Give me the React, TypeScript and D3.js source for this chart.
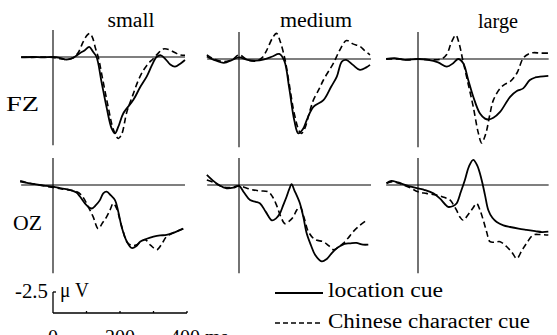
import React from 'react';
import * as d3 from 'd3';

type Pt = [number, number]; // [ms, microvolts], negative plotted up

const conditions = ['small', 'medium', 'large'];
const electrodes = ['FZ', 'OZ'];
const legendLabels = ['location cue', 'Chinese character cue'];
const scaleTicks = [0, 100, 200, 300, 400];
const scaleTickLabels = [
  { t: 0, text: '0', anchor: 'middle' },
  { t: 200, text: '200', anchor: 'middle' },
  { t: 350, text: '400 ms', anchor: 'start' },
];

// FZ
const fzSmallLoc: Pt[] = [[-95, 0.05], [-60, 0], [-30, 0.05], [0, 0], [20, 0.1], [40, 0.3], [60, 0.1], [80, -0.45], [95, -0.8], [108, -1.2], [120, -0.6], [130, 0], [145, 3], [160, 6], [175, 8.5], [185, 9.1], [195, 8.3], [210, 6.7], [240, 5.1], [260, 3.6], [280, 2.3], [295, 1.0], [309, 0], [322, -0.2], [337, 0.3], [350, 0.9], [364, 1.15], [380, 0.8], [394, 0.36]];
const fzSmallChi: Pt[] = [[-95, 0], [-60, 0.05], [-30, 0], [0, 0.05], [20, 0.2], [40, 0.3], [60, 0.1], [75, -0.5], [90, -1.8], [102, -2.6], [110, -2.8], [118, -2.3], [127, -1.0], [135, 0], [150, 3], [165, 6], [180, 8.6], [195, 9.7], [205, 9.2], [220, 6.6], [235, 4.9], [260, 2.3], [280, 1.0], [299, 0.2], [315, -0.5], [329, -0.95], [345, -0.9], [365, -0.5], [380, -0.25], [394, -0.2]];
const fzMediumLoc: Pt[] = [[-96, -0.3], [-75, 0.1], [-45, 0.45], [-20, 0.1], [0, -0.2], [25, 0.1], [50, 0.2], [75, 0.05], [100, -0.3], [120, -0.6], [135, 0.2], [150, 3.5], [165, 7.3], [177, 8.85], [190, 8.4], [205, 7.0], [222, 5.7], [252, 4.9], [275, 3.3], [292, 2.1], [307, 0.3], [320, 0.1], [340, 0.7], [361, 1.3], [380, 1.0], [391, 0.7]];
const fzMediumChi: Pt[] = [[-96, -0.5], [-75, 0], [-45, 0.3], [-20, 0.1], [0, -0.5], [25, 0.1], [50, 0.25], [70, -0.2], [83, -1.07], [100, -2.5], [112, -3.05], [122, -2.2], [137, 0], [150, 3], [165, 6.5], [180, 8.6], [187, 8.85], [197, 8.2], [210, 6.4], [222, 4.9], [240, 3.5], [252, 2.5], [270, 1.3], [282, 0.5], [301, -1.07], [321, -2.2], [340, -1.8], [361, -1.5], [375, -1.0], [391, -0.5]];
const fzLargeLoc: Pt[] = [[-95, 0], [-70, -0.1], [-40, 0.1], [0, 0], [30, 0.1], [60, 0.4], [86, 0.9], [105, 0.5], [120, 0], [135, 0.5], [150, 2.5], [165, 4.5], [185, 6.5], [200, 7.1], [210, 7.2], [225, 7.0], [245, 6.3], [275, 4.5], [295, 3.8], [314, 3.5], [334, 2.5], [350, 2.2], [364, 2.1], [389, 2.0]];
const fzLargeChi: Pt[] = [[-95, 0], [-60, 0], [-30, 0.1], [0, 0], [40, 0.1], [70, 0], [85, -0.5], [100, -2.0], [113, -2.85], [123, -1.8], [133, 0], [150, 3], [165, 5.7], [180, 8.8], [190, 10.0], [198, 9.4], [205, 8.5], [215, 6.5], [225, 4.9], [245, 3.5], [260, 3.0], [275, 2.7], [295, 1.7], [314, -0.1], [330, -0.6], [344, -0.75], [365, -0.7], [389, -0.7]];

// OZ
const ozSmallLoc: Pt[] = [[-98, -0.4], [-70, -0.2], [-40, 0], [-20, 0.1], [0, 0.2], [25, 0.4], [51, 0.6], [70, 0.9], [81, 1.4], [100, 2.4], [115, 2.8], [128, 2.4], [140, 1.8], [150, 1.0], [160, 0.8], [172, 1.2], [185, 1.8], [195, 3.2], [205, 5.0], [220, 6.7], [235, 7.5], [248, 7.3], [260, 6.75], [280, 6.4], [300, 6.15], [320, 6.0], [339, 5.95], [365, 5.6], [389, 5.2]];
const ozSmallChi: Pt[] = [[-98, -0.5], [-70, -0.2], [-40, 0], [0, 0.3], [30, 0.5], [50, 0.6], [71, 0.8], [85, 1.2], [95, 1.8], [108, 2.8], [120, 3.8], [135, 5.2], [148, 4.5], [160, 3.8], [170, 3.0], [180, 2.2], [190, 2.8], [200, 4.2], [210, 5.6], [220, 6.75], [235, 7.2], [250, 7.1], [262, 6.8], [275, 6.5], [292, 7.2], [310, 7.7], [325, 7.0], [339, 6.15], [365, 5.6], [389, 5.2]];
const ozMediumLoc: Pt[] = [[-96, -1.2], [-80, -0.6], [-60, 0], [-37, 0.4], [-15, 0.3], [0, 0.1], [15, 0.9], [33, 1.8], [50, 2.0], [63, 2.2], [80, 3.2], [98, 4.2], [110, 4.0], [122, 3.4], [132, 2.4], [142, 1.4], [150, 0.5], [157, -0.1], [165, 0.6], [182, 2.2], [192, 3.8], [202, 5.75], [215, 7.2], [227, 8.3], [247, 9.1], [262, 8.8], [277, 8.1], [290, 7.6], [301, 7.3], [315, 7.0], [331, 6.95], [350, 6.9], [370, 7.1], [386, 7.1]];
const ozMediumChi: Pt[] = [[-96, -0.6], [-75, -0.3], [-50, 0.2], [-25, 0.3], [0, 0.1], [33, 0.5], [60, 0.7], [87, 0.8], [100, 1.4], [112, 2.4], [125, 3.8], [137, 4.6], [150, 4.3], [162, 3.8], [172, 3.0], [182, 2.6], [195, 4.0], [207, 5.55], [227, 6.5], [252, 6.75], [267, 7.2], [282, 7.7], [297, 7.4], [311, 6.95], [326, 6.3], [341, 5.55], [361, 4.8], [381, 4.2]];
const ozLargeLoc: Pt[] = [[-94, -0.2], [-80, -0.5], [-60, -0.3], [-30, 0.1], [0, 0.4], [20, 0.6], [46, 1.0], [65, 1.6], [90, 2.6], [105, 2.5], [115, 2.2], [128, 0.8], [140, -0.6], [152, -2.2], [165, -3.0], [177, -2.3], [190, -0.6], [200, 1.2], [210, 3.0], [222, 3.9], [235, 4.4], [255, 4.8], [275, 5.0], [300, 5.2], [324, 5.35], [350, 5.5], [370, 5.6], [389, 5.55]];
const ozLargeChi: Pt[] = [[-94, -0.2], [-75, -0.4], [-50, -0.1], [-25, 0.3], [0, 0.8], [25, 1.0], [56, 1.2], [80, 1.5], [96, 1.8], [105, 2.3], [115, 3.0], [125, 3.8], [135, 4.2], [150, 3.5], [163, 2.8], [175, 2.2], [185, 3.0], [195, 4.2], [205, 5.6], [215, 6.75], [230, 6.8], [245, 6.75], [265, 7.35], [280, 8.0], [295, 8.75], [310, 7.8], [324, 6.95], [344, 5.95], [365, 5.9], [389, 5.95]];

const panels = [
  [[fzSmallLoc, fzSmallChi], [fzMediumLoc, fzMediumChi], [fzLargeLoc, fzLargeChi]],
  [[ozSmallLoc, ozSmallChi], [ozMediumLoc, ozMediumChi], [ozLargeLoc, ozLargeChi]],
];

const W = 557;
const H = 335;
const colZero = [53, 239, 418];
const rowBase = [[57, 59, 59], [185, 185, 185]];
const baseEnd = [394, 394, 390];
const pxPerMs = 0.335;
const pxPerUv = 8.4;
const txt = { fontFamily: "'Liberation Serif', 'Times New Roman', Times, serif", fontSize: 20 };

const App = () => {
  const xScale = (c: number) =>
    d3.scaleLinear().domain([0, 400]).range([colZero[c], colZero[c] + 400 * pxPerMs]);
  const yScale = (r: number, c: number) =>
    d3.scaleLinear().domain([0, 10]).range([rowBase[r][c], rowBase[r][c] + 10 * pxPerUv]);

  const sx = xScale(0);
  const sy = d3.scaleLinear().domain([0, -2.5]).range([313, 313 - 2.5 * pxPerUv]);

  return (
    <svg width={W} height={H} style={{ position: 'absolute', left: 0, top: 0, background: '#fff' }} fill="#000">
      {conditions.map((name, c) => (
        <text key={name} style={txt} x={[131, 316, 498][c]} y={[27, 27, 28][c]}
          textAnchor="middle" textLength={[47, 72, 40][c]} lengthAdjust="spacingAndGlyphs">{name}</text>
      ))}
      {electrodes.map((name, r) => (
        <text key={name} style={txt} x={[6, 13][r]} y={[111, 230][r]}
          textLength={[33, 29][r]} lengthAdjust="spacingAndGlyphs">{name}</text>
      ))}
      {panels.map((row, r) =>
        row.map((series, c) => {
          const x = xScale(c);
          const y = yScale(r, c);
          const line = d3.line<Pt>().x(d => x(d[0])).y(d => y(d[1])).curve(d3.curveCatmullRom.alpha(0.5));
          return (
            <g key={`${r}-${c}`}>
              <line x1={x(-95)} x2={x(baseEnd[c])} y1={y(0)} y2={y(0)} stroke="#000" strokeWidth={1.1} />
              <line x1={x(0)} x2={x(0)} y1={y(-3.2)} y2={y(10.5)} stroke="#000" strokeWidth={1.1} />
              <path d={line(series[1]) ?? ''} fill="none" stroke="#000" strokeWidth={1.6} strokeDasharray="6,3.5" />
              <path d={line(series[0]) ?? ''} fill="none" stroke="#000" strokeWidth={1.8} />
            </g>
          );
        })
      )}
      {/* scale bar */}
      <g stroke="#000" strokeWidth={1.3}>
        <line x1={sx(0)} x2={sx(0)} y1={sy(0)} y2={sy(-2.5)} />
        <line x1={sx(0)} x2={sx(0) + 3} y1={sy(-2.5)} y2={sy(-2.5)} />
        <line x1={sx(0)} x2={sx(400)} y1={sy(0)} y2={sy(0)} />
        {scaleTicks.slice(1).map(t => (
          <line key={t} x1={sx(t)} x2={sx(t)} y1={sy(0)} y2={sy(0) - 2} />
        ))}
      </g>
      <text style={txt} x={15} y={298} textLength={33} lengthAdjust="spacingAndGlyphs">-2.5</text>
      <text style={txt} x={60} y={297} textLength={29} lengthAdjust="spacingAndGlyphs">μ V</text>
      {scaleTickLabels.map(d => (
        <text key={d.text} style={txt} x={d.t === 350 ? 170 : sx(d.t)} y={344} textAnchor={d.anchor as any}>{d.text}</text>
      ))}
      {/* legend */}
      <line x1={275} x2={323} y1={293} y2={293} stroke="#000" strokeWidth={2} />
      <text style={txt} x={328} y={297} textLength={115} lengthAdjust="spacingAndGlyphs">{legendLabels[0]}</text>
      <line x1={275} x2={323} y1={323} y2={323} stroke="#000" strokeWidth={1.5} strokeDasharray="5,3" />
      <text style={txt} x={328} y={328} textLength={202} lengthAdjust="spacingAndGlyphs">{legendLabels[1]}</text>
    </svg>
  );
};

export default App;
